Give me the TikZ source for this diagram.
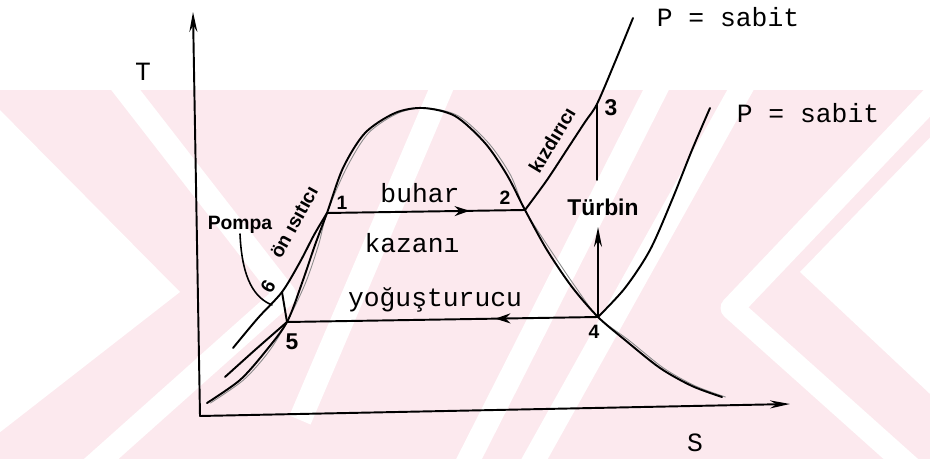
\documentclass[tikz,border=0pt]{standalone}
\usepackage{fontspec}
\newfontfamily\typefont{Liberation Mono}
\newfontfamily\handfont{Liberation Sans}
\usetikzlibrary{arrows.meta,decorations.markings}
\definecolor{wmpink}{RGB}{252,233,238}

\begin{document}
\begin{tikzpicture}[x=0.02cm,y=-0.02cm,>={Stealth[length=4mm,width=1.6mm]},line cap=round,line join=round,
  curve/.style={line width=1.1pt},
  ghost/.style={black!45,line width=0.5pt},
  stripe/.style={white,line width=0.46cm,line cap=butt},
  typed/.style={font=\typefont\fontsize{15}{18}\selectfont,inner sep=0pt},
  hand/.style={font=\handfont\bfseries\fontsize{11}{13}\selectfont,inner sep=0pt},
  bighand/.style={hand,font=\handfont\bfseries\fontsize{13}{15}\selectfont},
  midarrow/.style={postaction={decorate},decoration={markings,mark=at position #1 with {\arrow{Stealth[length=3mm,width=2mm]}}}}]
\useasboundingbox (0,0) rectangle (930,459);
% faint watermark behind the chart
\begin{scope}
\clip (0,90) rectangle (930,459);
\fill[wmpink] (0,90) rectangle (930,459);
\fill[white] (-10,100) -- (180,292) -- (-10,440) -- cycle;
\draw[stripe] (118,80) -- (285,295) -- (90,469);
\draw[stripe] (300,420) -- (445,80);
\draw[stripe] (661,80) -- (464,469);
\draw[stripe] (746,80) -- (529,469);
\fill[white] (800,272) -- (945,122) -- (945,408) -- cycle;
\draw[stripe] (950,79) -- (732,308) -- (950,503);
\end{scope}
% axes
\coordinate (O) at (200,416);
\coordinate (Ttip) at (193,12);
\coordinate (Send) at (790,404);
\draw[curve,->] (O) -- (Ttip);
\draw[curve,->] (O) -- (Send);
\node[typed] (Tlab) at (143,72) {T};
\node[typed] (Slab) at (695,443) {S};
% cycle points
\coordinate (p1) at (327,213);
\coordinate (p2) at (525,210);
\coordinate (p3) at (597,104);
\coordinate (p4) at (598,317);
\coordinate (p5) at (287,322);
\coordinate (p6) at (282,292);
\coordinate (hiTop) at (633,18);
\coordinate (loTop) at (710,108);
\coordinate (turbA) at (597,180);
\coordinate (turbB) at (598,227);
\coordinate (pumpEnd) at (272,305);
% saturation dome
\foreach \sh/\st in {2/ghost,0/curve}
  \draw[\st,xshift=\sh pt] plot[smooth] coordinates {(207,403) (240,380) (265,352) (p5) (302,283) (315,245) (p1)
    (343,168) (365,133) (395,113) (423,108) (455,116) (485,143) (507,175) (p2) (547,250) (572,287) (p4)
    (625,340) (660,368) (692,386) (722,397)};
% constant pressure lines
\draw[curve] plot[smooth] coordinates {(233,348) (258,318) (p6) (300,262) (314,235) (p1)};
\draw[curve,midarrow=0.72] (p1) -- (p2);
\draw[curve] plot[smooth] coordinates {(p2) (547,180) (568,148) (585,122) (p3) (615,62) (hiTop)};
\draw[curve] plot[smooth] coordinates {(225,377) (255,350) (p5)};
\draw[curve,midarrow=0.33] (p4) -- (p5);
\draw[curve] plot[smooth] coordinates {(p4) (625,288) (650,250) (672,200) (692,150) (loTop)};
% turbine and pump
\draw[curve] (p3) -- (turbA);
\draw[curve,<-] (turbB) -- (p4);
\draw[curve] (p5) -- (p6);
% labels
\node[typed] (buhar) at (420,193) {buhar};
\node[typed] (kazani) at (412,243) {kazanı};
\node[typed] (yogus) at (435,300) {yoğuşturucu};
\node[typed] (psabitA) at (728,17) {P = sabit};
\node[typed] (psabitB) at (808,113) {P = sabit};
\node[hand] (pompa) at (240,225) {Pompa};
\draw[line width=0.9pt] (pompa.south) .. controls (242,280) and (255,298) .. (pumpEnd);
\node[hand,rotate=61] (onisit) at (294,222) {ön ısıtıcı};
\node[hand,rotate=59] (kizd) at (552,140) {kızdırıcı};
\node[bighand] (turbin) at (603,207) {Türbin};
\node[hand] (l1) at (342,203) {1};
\node[hand] (l2) at (505,198) {2};
\node[bighand] (l3) at (611,108) {3};
\node[hand] (l4) at (594,332) {4};
\node[bighand] (l5) at (292,342) {5};
\node[hand,rotate=60] (l6) at (268,287) {6};
\end{tikzpicture}
\end{document}
